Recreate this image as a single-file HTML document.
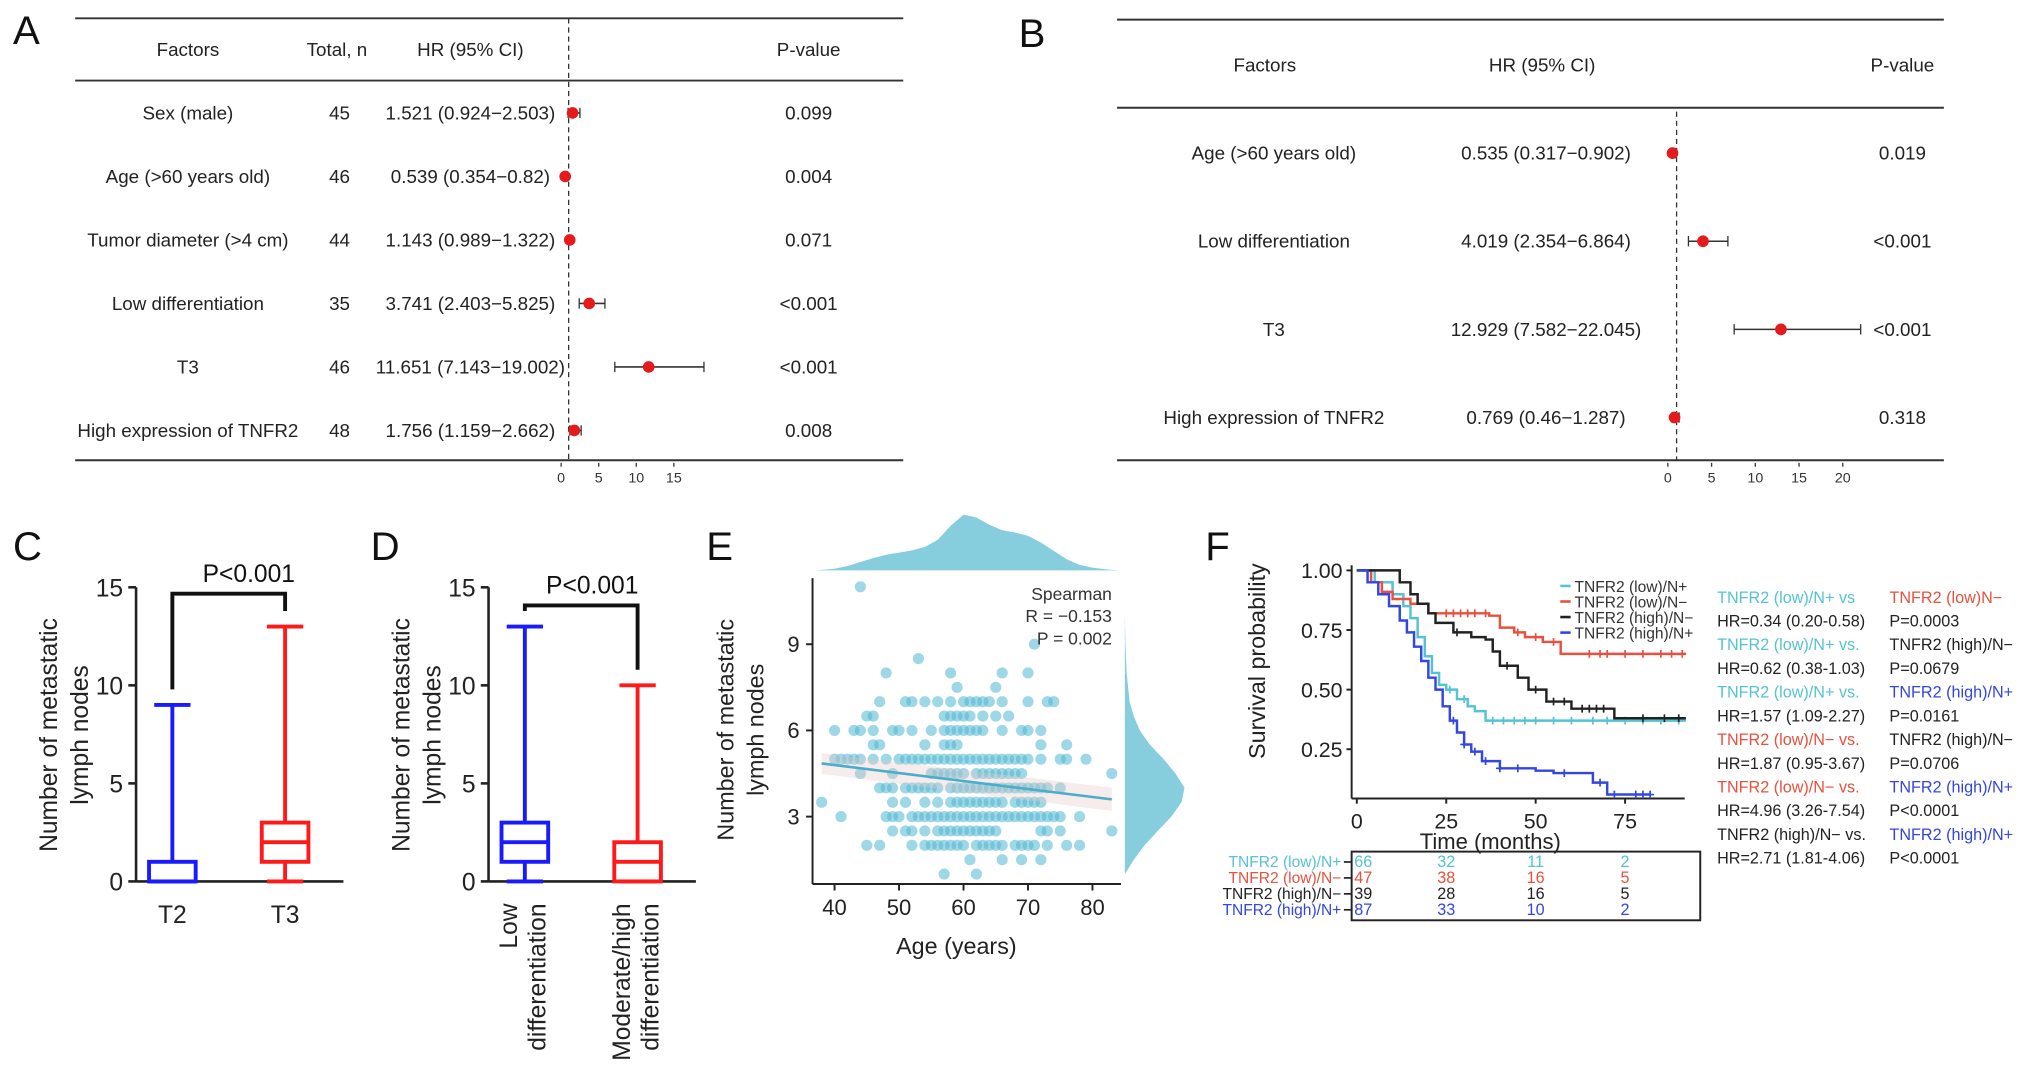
<!DOCTYPE html>
<html><head><meta charset="utf-8"><style>
html,body{margin:0;padding:0;background:#fff;}
svg{display:block;font-family:"Liberation Sans",Arial,sans-serif;}
</style></head><body>
<svg id="fig" width="2032" height="1076" viewBox="0 0 1568 830" xmlns="http://www.w3.org/2000/svg"></svg>
<script>
// ---------- Panel A data ----------
const aFactors=["Sex (male)","Age (>60 years old)","Tumor diameter (>4 cm)","Low differentiation","T3","High expression of TNFR2"];
const aTotals=[45,46,44,35,46,48];
const aHR=[1.521,0.539,1.143,3.741,11.651,1.756];
const aLo=[0.924,0.354,0.989,2.403,7.143,1.159];
const aHi=[2.503,0.82,1.322,5.825,19.002,2.662];
const aHRText=["1.521 (0.924−2.503)","0.539 (0.354−0.82)","1.143 (0.989−1.322)","3.741 (2.403−5.825)","11.651 (7.143−19.002)","1.756 (1.159−2.662)"];
const aP=["0.099","0.004","0.071","<0.001","<0.001","0.008"];
const aTicks=[0,5,10,15];
// ---------- Panel B data ----------
const bFactors=["Age (>60 years old)","Low differentiation","T3","High expression of TNFR2"];
const bHR=[0.535,4.019,12.929,0.769];
const bLo=[0.317,2.354,7.582,0.46];
const bHi=[0.902,6.864,22.045,1.287];
const bHRText=["0.535 (0.317−0.902)","4.019 (2.354−6.864)","12.929 (7.582−22.045)","0.769 (0.46−1.287)"];
const bP=["0.019","<0.001","<0.001","0.318"];
const bTicks=[0,5,10,15,20];
// ---------- Panel C/D data ----------
const boxTicks=[0,5,10,15];
const cCats=["T2","T3"];
const cMin=[0,0],cQ1=[0,1],cMed=[0,2],cQ3=[1,3],cMax=[9,13];
const dCats=["Low|differentiation","Moderate/high|differentiation"];
const dMin=[0,0],dQ1=[1,0],dMed=[2,1],dQ3=[3,2],dMax=[13,10];
// ---------- Panel E data ----------
const eLevels=[11,9,8.5,8,7.5,7,6.5,6,5.5,5,4.5,4,3.5,3,2.5,2,1.5,1];
const eAges=[[44],[71],[53],[48,58,66,70],[59,65],
[47,51,52,54,56,58,60,61,62,63,64,66,70,73,74],
[45,46,57,58,59,60,61,63,65,67],
[40,43,44,46,49,50,52,55,57,58,59,60,61,62,63,66,69,70,72],
[46,47,54,57,58,59,72,76],
[40,41,42,43,44,46,48,50,51,52,53,54,55,56,57,58,59,60,61,62,63,64,65,66,67,68,69,70,72,75,76,79],
[44,49,55,56,57,58,59,60,62,63,64,65,66,67,68,69,83],
[47,48,49,51,52,53,54,55,56,58,59,60,61,62,63,64,65,66,67,68,69,70,71,72,73,75],
[38,49,51,54,56,58,59,60,61,62,63,64,65,66,68,69,70,71,72],
[41,48,49,50,52,53,54,55,56,57,58,59,60,61,62,63,64,65,66,67,68,69,70,71,72,73,74,75,78],
[49,51,52,54,56,57,58,59,60,61,62,63,64,65,72,73,75,83],
[45,47,52,54,55,56,57,58,59,60,62,63,64,65,66,68,69,70,71,73,76,78],
[61,66,69,72],[57,62]];
const eXTicks=[40,50,60,70,80];
const eYTicks=[3,6,9];
const eFit=[[38,4.85],[83,3.6]];
const ageGrid=[37,38,40,42,44,46,48,50,52,54,56,58,60,62,64,66,68,70,72,74,76,78,80,82,84];
const ageDens=[0,0.01,0.03,0.08,0.15,0.22,0.28,0.32,0.36,0.42,0.55,0.8,1.0,0.95,0.82,0.72,0.68,0.62,0.5,0.35,0.2,0.1,0.05,0.02,0];
const nodeGrid=[1,1.5,2,2.5,3,3.5,4,4.5,5,5.5,6,6.5,7,8,9,10];
const nodeDens=[0,0.15,0.33,0.55,0.78,0.95,1.0,0.85,0.65,0.42,0.25,0.15,0.08,0.03,0.01,0];
// ---------- Panel F data ----------
const fNames=["TNFR2 (low)/N+","TNFR2 (low)/N−","TNFR2 (high)/N−","TNFR2 (high)/N+"];
const fColors=["#55c3d3","#e8513d","#222222","#3346e0"];
const fTimes=[
[0,5,10,13,15,17,19,21,23,25,28,31,33,36,92],
[0,4,7,10,15,20,37,40,44,47,52,57,92],
[0,10,12,15,17,20,22,27,32,36,38,40,45,48,53,60,72,92],
[0,3,6,9,12,14,16,18,20,22,24,26,28,30,32,35,40,50,55,66,70,82]];
const fSurv=[
[1,0.95,0.9,0.85,0.8,0.72,0.64,0.57,0.52,0.5,0.46,0.43,0.41,0.37,0.37],
[1,0.95,0.91,0.88,0.86,0.82,0.81,0.76,0.74,0.72,0.70,0.65,0.65],
[1,1,0.95,0.9,0.86,0.82,0.78,0.74,0.72,0.71,0.66,0.6,0.55,0.5,0.45,0.42,0.38,0.38],
[1,0.95,0.9,0.85,0.79,0.74,0.68,0.62,0.55,0.5,0.43,0.37,0.32,0.27,0.24,0.2,0.17,0.16,0.15,0.11,0.06,0.06]];
const fCensor=[[26,30,38,41,44,47,50,55,60,66,70,75,80,85,90],[25,27,29,31,33,36,45,50,55,65,68,70,75,80,85,88,91],[28,42,50,55,58,63,65,67,69,80,86,90],[27,30,33,36,40,45,58,68,72,78,80,82]];
const fXTicks=[0,25,50,75];
const fYTicks=[0.25,0.5,0.75,1.0];
const fRisk=[[66,32,11,2],[47,38,16,5],[39,28,16,5],[87,33,10,2]];
const fCmpA=["TNFR2 (low)/N+ vs","HR=0.34 (0.20-0.58)","TNFR2 (low)/N+ vs.","HR=0.62 (0.38-1.03)","TNFR2 (low)/N+ vs.","HR=1.57 (1.09-2.27)","TNFR2 (low)/N− vs.","HR=1.87 (0.95-3.67)","TNFR2 (low)/N− vs.","HR=4.96 (3.26-7.54)","TNFR2 (high)/N− vs.","HR=2.71 (1.81-4.06)"];
const fCmpAC=[0,2,0,2,0,2,1,2,1,2,2,2];
const fCmpB=["TNFR2 (low)N−","P=0.0003","TNFR2 (high)/N−","P=0.0679","TNFR2 (high)/N+","P=0.0161","TNFR2 (high)/N−","P=0.0706","TNFR2 (high)/N+","P<0.0001","TNFR2 (high)/N+","P<0.0001"];
const fCmpBC=[1,2,2,2,3,2,2,2,3,2,3,2];

const NS="http://www.w3.org/2000/svg";
const svg=document.getElementById('fig');
function mk(tag,attrs,parent){const e=document.createElementNS(NS,tag);for(const k in attrs)e.setAttribute(k,attrs[k]);(parent||svg).appendChild(e);return e;}
function tx(str,x,y,size,anchor,fill,parent){const e=mk('text',{x:x,y:y,'font-size':size,'text-anchor':anchor||'start',fill:fill||'#222'},parent);e.textContent=str;return e;}
function grp(){return mk('g',{});}

// panel letters
[["A",10,34],["B",786,36],["C",10,432],["D",286,432],["E",545,432],["F",930,432]].forEach(l=>{
  const t=tx(l[0],l[1],l[2],31,'start','#111');
  
  
});

// ---------- A ----------
(function(){
  const g=grp();
  
  
  const xA=v=>433+v*5.8;
  mk('line',{x1:58,x2:697,y1:14,y2:14,stroke:'#333','stroke-width':1.5},g);
  mk('line',{x1:58,x2:697,y1:62,y2:62,stroke:'#333','stroke-width':1.5},g);
  mk('line',{x1:58,x2:697,y1:355,y2:355,stroke:'#333','stroke-width':1.5},g);
  mk('line',{x1:xA(1),x2:xA(1),y1:14,y2:355,stroke:'#333','stroke-width':1,'stroke-dasharray':'4,3'},g);
  tx("Factors",145,43,14.5,'middle','#222',g);tx("Total, n",260,43,14.5,'middle','#222',g);
  tx("HR (95% CI)",363,43,14.5,'middle','#222',g);tx("P-value",624,43,14.5,'middle','#222',g);
  aFactors.forEach((f,i)=>{
    const y=87+i*49;
    tx(f,145,y+5,14.5,'middle','#222',g);
    tx(String(aTotals[i]),262,y+5,14.5,'middle','#222',g);
    tx(aHRText[i],363,y+5,14.5,'middle','#222',g);
    tx(aP[i],624,y+5,14.5,'middle','#222',g);
    const l=mk('line',{x1:xA(aLo[i]),x2:xA(aHi[i]),y1:y,y2:y,stroke:'#333','stroke-width':1.2},g);
    
    
    mk('line',{x1:xA(aLo[i]),x2:xA(aLo[i]),y1:y-4,y2:y+4,stroke:'#333'},g);
    mk('line',{x1:xA(aHi[i]),x2:xA(aHi[i]),y1:y-4,y2:y+4,stroke:'#333'},g);
    const c=mk('circle',{cx:xA(aHR[i]),cy:y,r:4.5,fill:'#e41a1c'},g);
    
    
  });
  aTicks.forEach(t=>{mk('line',{x1:xA(t),x2:xA(t),y1:357,y2:360,stroke:'#333'},g);tx(String(t),xA(t),372,11,'middle','#333',g);});
})();

// ---------- B ----------
(function(){
  const g=grp();
  
  
  const xB=v=>1287+v*6.75;
  mk('line',{x1:862,x2:1500,y1:15,y2:15,stroke:'#333','stroke-width':1.5},g);
  mk('line',{x1:862,x2:1500,y1:83,y2:83,stroke:'#333','stroke-width':1.5},g);
  mk('line',{x1:862,x2:1500,y1:355,y2:355,stroke:'#333','stroke-width':1.5},g);
  mk('line',{x1:xB(1),x2:xB(1),y1:86,y2:355,stroke:'#333','stroke-width':1,'stroke-dasharray':'4,3'},g);
  tx("Factors",976,55,14.5,'middle','#222',g);tx("HR (95% CI)",1190,55,14.5,'middle','#222',g);tx("P-value",1468,55,14.5,'middle','#222',g);
  bFactors.forEach((f,i)=>{
    const y=118+i*68;
    tx(f,983,y+5,14.5,'middle','#222',g);
    tx(bHRText[i],1193,y+5,14.5,'middle','#222',g);
    tx(bP[i],1468,y+5,14.5,'middle','#222',g);
    const l=mk('line',{x1:xB(bLo[i]),x2:xB(bHi[i]),y1:y,y2:y,stroke:'#333','stroke-width':1.2},g);
    
    
    mk('line',{x1:xB(bLo[i]),x2:xB(bLo[i]),y1:y-4,y2:y+4,stroke:'#333'},g);
    mk('line',{x1:xB(bHi[i]),x2:xB(bHi[i]),y1:y-4,y2:y+4,stroke:'#333'},g);
    const c=mk('circle',{cx:xB(bHR[i]),cy:y,r:4.5,fill:'#e41a1c'},g);
    
    
  });
  bTicks.forEach(t=>{mk('line',{x1:xB(t),x2:xB(t),y1:357,y2:360,stroke:'#333'},g);tx(String(t),xB(t),372,11,'middle','#333',g);});
})();

// ---------- C & D ----------
function boxPanel(ax,centers,cats,mn,q1,md,q3,mx,colors,bracketY,pX,titleX,rot,nameKey){
  const g=grp();
  
  
  const y=v=>680-v*15.13;
  mk('line',{x1:ax,x2:ax,y1:y(15),y2:y(0),stroke:'#222','stroke-width':2},g);
  mk('line',{x1:ax,x2:centers[1]+45,y1:y(0),y2:y(0),stroke:'#222','stroke-width':2},g);
  boxTicks.forEach(t=>{mk('line',{x1:ax-6,x2:ax,y1:y(t),y2:y(t),stroke:'#222','stroke-width':2},g);tx(String(t),ax-10,y(t)+7,19,'end','#222',g);});
  centers.forEach((c,i)=>{
    const col=colors[i],w=18,cw=14;
    const b=mk('rect',{x:c-w,y:y(q3[i]),width:2*w,height:y(q1[i])-y(q3[i]),fill:'none',stroke:col,'stroke-width':3},g);
    
    
    mk('line',{x1:c-w,x2:c+w,y1:y(md[i]),y2:y(md[i]),stroke:col,'stroke-width':3},g);
    mk('line',{x1:c,x2:c,y1:y(q3[i]),y2:y(mx[i]),stroke:col,'stroke-width':3},g);
    mk('line',{x1:c,x2:c,y1:y(q1[i]),y2:y(mn[i]),stroke:col,'stroke-width':3},g);
    mk('line',{x1:c-cw,x2:c+cw,y1:y(mx[i]),y2:y(mx[i]),stroke:col,'stroke-width':3},g);
    mk('line',{x1:c-cw,x2:c+cw,y1:y(mn[i]),y2:y(mn[i]),stroke:col,'stroke-width':3},g);
    if(!rot){tx(cats[i],c,712,19,'middle','#222',g);}
    else{const parts=cats[i].split('|');const t=mk('text',{transform:`translate(${c},697) rotate(-90)`,'font-size':19,'text-anchor':'end',fill:'#222'},g);
      parts.forEach((p,k)=>{const s=mk('tspan',{x:0,dy:k==0?-6:22},t);s.textContent=p;});}
  });
  const br=mk('path',{d:`M${centers[0]},${y(mx[0])-12} V${bracketY} H${centers[1]} V${y(mx[1])-12}`,fill:'none',stroke:'#111','stroke-width':3},g);
  
  
  tx("P<0.001",pX,bracketY-9,19,'middle','#111',g);
  const yt=mk('text',{transform:`translate(${titleX},567) rotate(-90)`,'font-size':19,'text-anchor':'middle',fill:'#222'},g);
  
  
  const s1=mk('tspan',{x:0,dy:0},yt);s1.textContent="Number of metastatic";
  const s2=mk('tspan',{x:0,dy:24},yt);s2.textContent="lymph nodes";
}
boxPanel(105,[133,220],cCats,cMin,cQ1,cMed,cQ3,cMax,['#1a1aff','#ff1a1a'],458,192,44,false,'c');
boxPanel(377,[405,492],dCats,dMin,dQ1,dMed,dQ3,dMax,['#1a1aff','#ff1a1a'],467,457,316,true,'d');

// ---------- E ----------
(function(){
  const g=grp();
  
  
  const x=a=>644+(a-40)*4.975;
  const y=n=>630-(n-3)*22.17;
  let d=`M${x(ageGrid[0])},440`;
  ageGrid.forEach((a,i)=>{d+=` L${x(a)},${440-ageDens[i]*43}`;});
  d+=` L${x(ageGrid[ageGrid.length-1])},440 Z`;
  const td=mk('path',{d:d,fill:'#86cedd'},g);
  
  
  let d2=`M868,${y(nodeGrid[0])}`;
  nodeGrid.forEach((n,i)=>{d2+=` L${868+nodeDens[i]*46},${y(n)}`;});
  d2+=` L868,${y(nodeGrid[nodeGrid.length-1])} Z`;
  const rd=mk('path',{d:d2,fill:'#86cedd'},g);
  
  
  eLevels.forEach((lv,i)=>{eAges[i].forEach(a=>{
    const c=mk('circle',{cx:x(a),cy:y(lv),r:4.3,fill:'#4fb6d2','fill-opacity':0.55},g);
    
    
  });});
  mk('path',{d:`M${x(eFit[0][0])},${y(eFit[0][1])-8} L${x(eFit[1][0])},${y(eFit[1][1])-9} L${x(eFit[1][0])},${y(eFit[1][1])+9} L${x(eFit[0][0])},${y(eFit[0][1])+8}Z`,fill:'#e8c8c8','fill-opacity':0.35},g);
  const fl=mk('line',{x1:x(eFit[0][0]),y1:y(eFit[0][1]),x2:x(eFit[1][0]),y2:y(eFit[1][1]),stroke:'#4aaecb','stroke-width':2},g);
  
  
  mk('line',{x1:627,x2:627,y1:446,y2:682,stroke:'#222','stroke-width':1.5},g);
  mk('line',{x1:627,x2:865,y1:682,y2:682,stroke:'#222','stroke-width':1.5},g);
  eXTicks.forEach(t=>{mk('line',{x1:x(t),x2:x(t),y1:682,y2:687,stroke:'#222','stroke-width':1.5},g);tx(String(t),x(t),706,17,'middle','#222',g);});
  eYTicks.forEach(t=>{mk('line',{x1:622,x2:627,y1:y(t),y2:y(t),stroke:'#222','stroke-width':1.5},g);tx(String(t),617,y(t)+6,17,'end','#222',g);});
  tx("Spearman",858,463,13.5,'end','#333',g);tx("R = −0.153",858,480,13.5,'end','#333',g);tx("P = 0.002",858,497,13.5,'end','#333',g);
  const xt=tx("Age (years)",738,736,18,'middle','#222',g);
  
  
  const yt=mk('text',{transform:'translate(566,563) rotate(-90)','font-size':18,'text-anchor':'middle',fill:'#222'},g);
  
  
  const s1=mk('tspan',{x:0,dy:0},yt);s1.textContent="Number of metastatic";
  const s2=mk('tspan',{x:0,dy:23},yt);s2.textContent="lymph nodes";
})();

// ---------- F ----------
(function(){
  const g=grp();
  
  
  const x=t=>1047+t*2.76;
  const y=p=>440+(1-p)*184;
  mk('line',{x1:1043,x2:1043,y1:436,y2:616,stroke:'#222','stroke-width':1.5},g);
  mk('line',{x1:1043,x2:1300,y1:616,y2:616,stroke:'#222','stroke-width':1.5},g);
  fYTicks.forEach(t=>{mk('line',{x1:1039,x2:1043,y1:y(t),y2:y(t),stroke:'#222','stroke-width':1.5},g);tx(t.toFixed(2),1036,y(t)+6,16.5,'end','#222',g);});
  fXTicks.forEach(t=>{mk('line',{x1:x(t),x2:x(t),y1:616,y2:620,stroke:'#222','stroke-width':1.5},g);tx(String(t),x(t),639,16.5,'middle','#222',g);});
  const xt=tx("Time (months)",1150,655,17,'middle','#222',g);
  
  
  const yt=mk('text',{transform:'translate(976,510) rotate(-90)','font-size':18,'text-anchor':'middle',fill:'#222'},g);
  yt.textContent="Survival probability";
  
  
  fTimes.forEach((ts,i)=>{
    let d=`M${x(ts[0])},${y(fSurv[i][0])}`;
    for(let k=1;k<ts.length;k++){d+=` H${x(ts[k])} V${y(fSurv[i][k])}`;}
    const p=mk('path',{d:d,fill:'none',stroke:fColors[i],'stroke-width':1.9},g);
    
    
    fCensor[i].forEach(ct=>{
      let s=fSurv[i][0];for(let k=0;k<ts.length;k++){if(ts[k]<=ct)s=fSurv[i][k];}
      mk('path',{d:`M${x(ct)-3},${y(s)} H${x(ct)+3} M${x(ct)},${y(s)-3} V${y(s)+3}`,stroke:fColors[i],'stroke-width':1.3},g);
    });
  });
  fNames.forEach((n,i)=>{
    const yy=452+i*12;
    mk('line',{x1:1204,x2:1212,y1:yy,y2:yy,stroke:fColors[i],'stroke-width':2},g);
    const t=tx(n,1215,yy+4.5,12,'start','#333',g);
    
    
  });
  fCmpA.forEach((s,i)=>{const yy=465+i*18.3;tx(s,1325,yy,12.5,'start',fCmpAC[i]==2?'#222':fColors[fCmpAC[i]],g);tx(fCmpB[i],1458,yy,12.5,'start',fCmpBC[i]==2?'#222':fColors[fCmpBC[i]],g);});
  const tb=mk('rect',{x:1043,y:657,width:269,height:53,fill:'none',stroke:'#222','stroke-width':1.5},g);
  
  
  fNames.forEach((n,i)=>{
    const yy=669+i*12.3;
    tx(n,1035,yy,12,'end',fColors[i],g);
    mk('line',{x1:1037,x2:1043,y1:yy-4,y2:yy-4,stroke:'#222','stroke-width':1.3},g);
    fRisk[i].forEach((v,k)=>{tx(String(v),x(fXTicks[k])+(k==0?5:0),yy,12.5,'middle',fColors[i],g);});
  });
})();
</script>
</body></html>
